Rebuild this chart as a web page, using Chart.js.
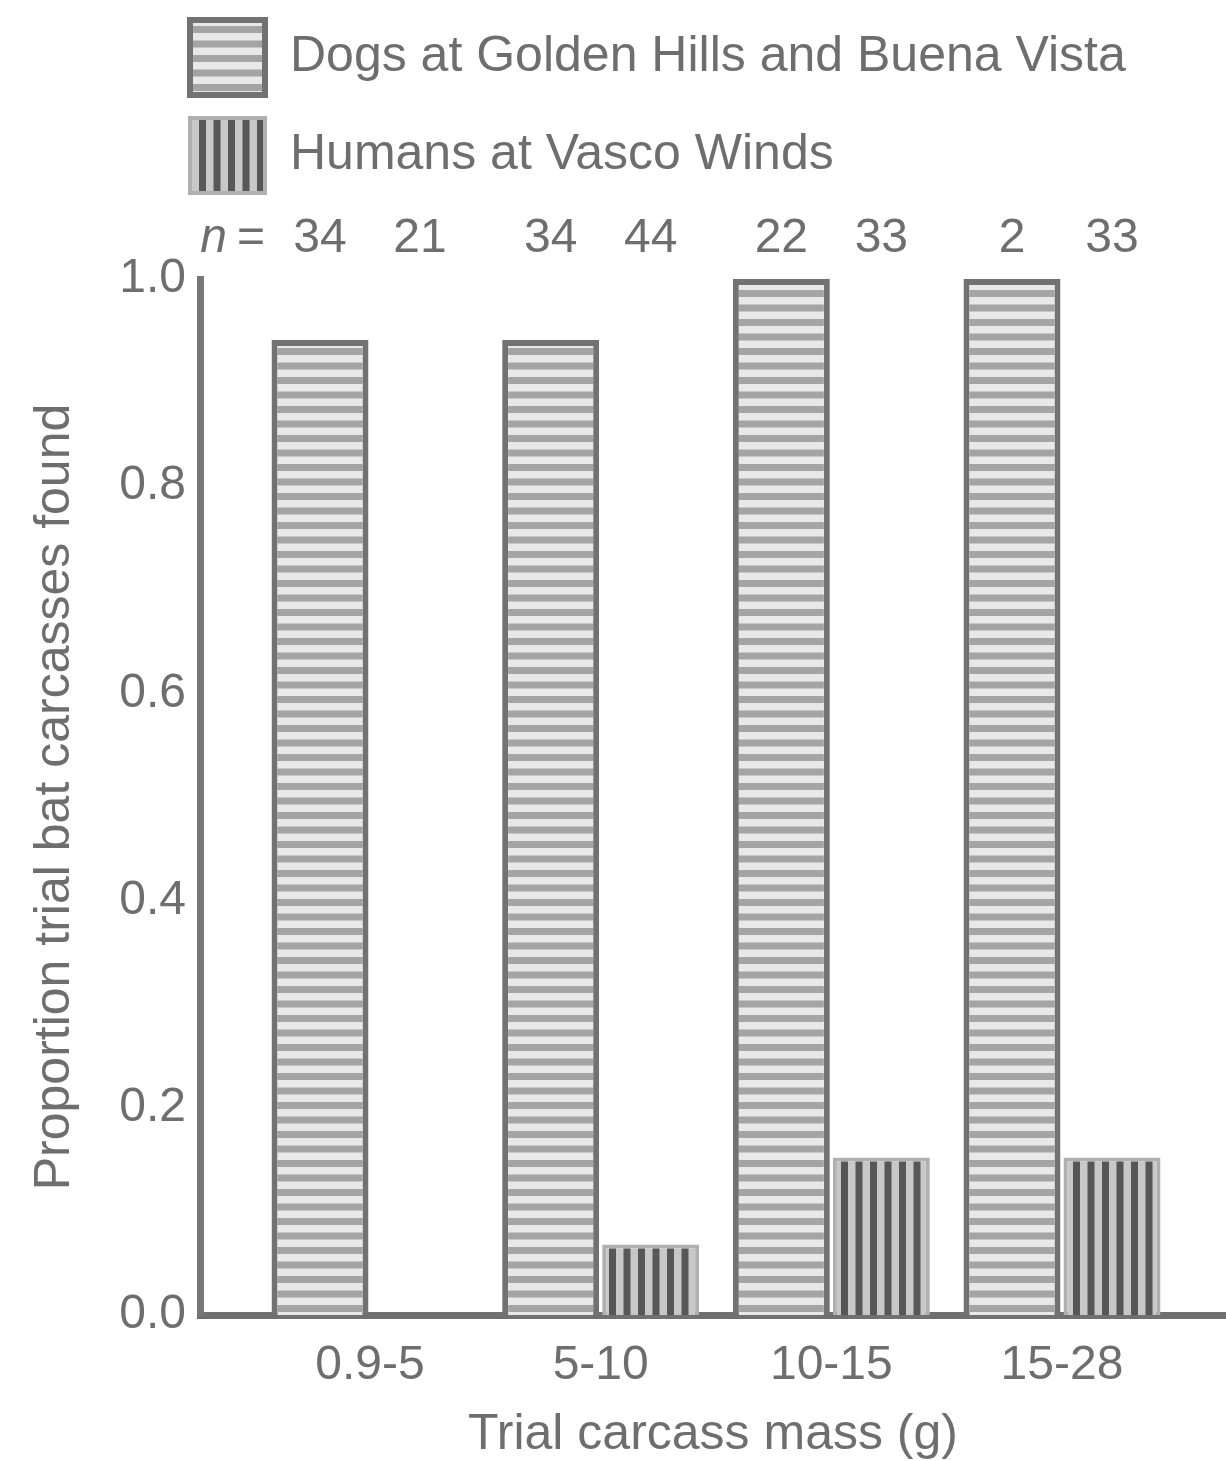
<!DOCTYPE html>
<html>
<head>
<meta charset="utf-8">
<script src="https://cdn.jsdelivr.net/npm/chart.js@4/dist/chart.umd.min.js"></script>
<style>
  html, body { margin: 0; padding: 0; background: #fff; }
  #wrap { width: 1226px; height: 1461px; }
</style>
</head>
<body>
<div id="wrap"><canvas id="bats"></canvas></div>
<script>
// proportion of trial bat carcasses found, by carcass mass bin
const massBins = ["0.9-5", "5-10", "10-15", "15-28"];
const dogFound = [0.941, 0.941, 1.0, 1.0];      // 32/34, 32/34, 22/22, 2/2
const humanFound = [0, 0.068, 0.152, 0.152];    // 0/21, 3/44, 5/33, 5/33
const dogN = [34, 34, 22, 2];
const humanN = [21, 44, 33, 33];

const textColor = "#6e6e6e";
const font = "'Liberation Sans', Arial, sans-serif";

function stripes(horizontal, dark, light) {
  const c = document.createElement("canvas");
  c.width = horizontal ? 4 : 29;
  c.height = horizontal ? 29 : 4;
  const g = c.getContext("2d");
  g.fillStyle = light;
  g.fillRect(0, 0, c.width, c.height);
  g.fillStyle = dark;
  if (horizontal) {
    g.fillRect(0, 0, 4, 7);
    g.fillRect(0, 14.5, 4, 7);
  } else {
    g.fillRect(0, 0, 7, 4);
    g.fillRect(14.5, 0, 7, 4);
  }
  return g.createPattern(c, "repeat");
}

// legend sits a bit left of the plot and leaves room for the n row below it
const legendTweak = {
  id: "legendTweak",
  afterInit(chart) {
    const lg = chart.legend;
    const fit = lg.fit;
    lg.fit = function () {
      fit.call(this);
      this.height += 73;
    };
    const draw = lg.draw;
    lg.draw = function () {
      chart.ctx.save();
      chart.ctx.translate(-33, -3);
      draw.call(this);
      chart.ctx.restore();
    };
  }
};

// n = ... sample sizes above each bar
const nLabels = {
  id: "nLabels",
  afterDatasetsDraw(chart) {
    const ctx = chart.ctx;
    const y = chart.chartArea.top - 40;
    ctx.save();
    ctx.fillStyle = textColor;
    ctx.textBaseline = "middle";
    ctx.font = "48px " + font;
    ctx.textAlign = "center";
    [dogN, humanN].forEach((ns, d) => {
      chart.getDatasetMeta(d).data.forEach((bar, i) => {
        ctx.fillText(String(ns[i]), bar.x, y);
      });
    });
    const first = chart.getDatasetMeta(0).data[0];
    ctx.textAlign = "right";
    ctx.fillText("=", first.x - 55, y);
    ctx.font = "italic 48px " + font;
    ctx.fillText("n", first.x - 93, y);
    ctx.restore();
  }
};

const ctx = document.getElementById("bats").getContext("2d");
new Chart(ctx, {
  type: "bar",
  data: {
    datasets: [
      {
        label: "Dogs at Golden Hills and Buena Vista",
        data: dogFound.map((v, i) => ({ x: i, y: v })),
        backgroundColor: stripes(true, "#a4a4a4", "#e8e8e8"),
        borderColor: "#727272",
        borderWidth: 6,
      },
      {
        label: "Humans at Vasco Winds",
        data: humanFound.map((v, i) => ({ x: i, y: v })),
        backgroundColor: stripes(false, "#575757", "#c8c8c8"),
        borderColor: "#b0b0b0",
        borderWidth: 4,
      },
    ],
  },
  options: {
    responsive: true,
    maintainAspectRatio: false,
    animation: false,
    categoryPercentage: 0.867,
    barPercentage: 0.97,
    layout: { padding: { top: 0, right: 0, bottom: 0, left: 0 } },
    plugins: {
      tooltip: { enabled: false },
      legend: {
        position: "top",
        align: "start",
        fullSize: false,
        labels: {
          boxWidth: 75,
          boxHeight: 75,
          padding: 23,
          color: textColor,
          font: { family: font, size: 50 },
        },
      },
    },
    scales: {
      x: {
        type: "linear",
        offset: false,
        min: -0.737,
        max: 3.711,
        afterBuildTicks: (s) => {
          s.ticks = massBins.map((b, i) => ({ value: i }));
        },
        afterFit: (s) => {
          s.height = 146;
        },
        ticks: {
          callback: (v) => massBins[v],
          color: textColor,
          font: { family: font, size: 48 },
          padding: 22,
          maxRotation: 0,
        },
        grid: { display: false, drawTicks: false, offset: false },
        border: { color: "#707070", width: 7 },
        title: {
          display: true,
          text: "Trial carcass mass (g)",
          color: textColor,
          font: { family: font, size: 50 },
          padding: { top: 0, bottom: -4 },
        },
      },
      y: {
        min: 0,
        max: 1,
        afterFit: (s) => {
          s.width = 200;
        },
        ticks: {
          stepSize: 0.2,
          callback: (v) => v.toFixed(1),
          color: textColor,
          font: { family: font, size: 48 },
          padding: 14,
        },
        grid: { display: false, drawTicks: false },
        border: { color: "#777777", width: 7 },
        title: {
          display: true,
          text: "Proportion trial bat carcasses found",
          color: textColor,
          font: { family: font, size: 50 },
          padding: { top: 25, bottom: 0 },
        },
      },
    },
  },
  plugins: [legendTweak, nLabels],
});
</script>
</body>
</html>
